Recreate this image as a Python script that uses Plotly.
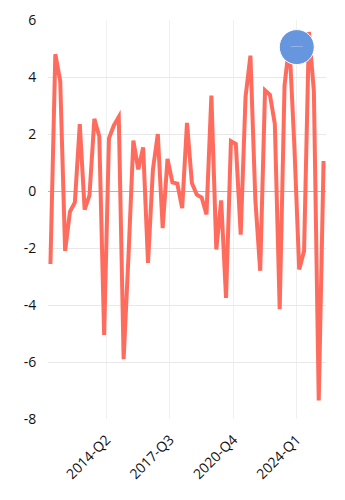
import plotly.graph_objects as go
import pandas as pd

quarters = [
    "2011-Q2", "2011-Q3", "2011-Q4",
    "2012-Q1", "2012-Q2", "2012-Q3", "2012-Q4",
    "2013-Q1", "2013-Q2", "2013-Q3", "2013-Q4",
    "2014-Q1", "2014-Q2", "2014-Q3", "2014-Q4",
    "2015-Q1", "2015-Q2", "2015-Q3", "2015-Q4",
    "2016-Q1", "2016-Q2", "2016-Q3", "2016-Q4",
    "2017-Q1", "2017-Q2", "2017-Q3", "2017-Q4",
    "2018-Q1", "2018-Q2", "2018-Q3", "2018-Q4",
    "2019-Q1", "2019-Q2", "2019-Q3", "2019-Q4",
    "2020-Q1", "2020-Q2", "2020-Q3", "2020-Q4",
    "2021-Q1", "2021-Q2", "2021-Q3", "2021-Q4",
    "2022-Q1", "2022-Q2", "2022-Q3", "2022-Q4",
    "2023-Q1", "2023-Q2", "2023-Q3", "2023-Q4",
    "2024-Q1", "2024-Q2", "2024-Q3", "2024-Q4",
    "2025-Q1", "2025-Q2",
]

values = [
    -2.56, 4.8, 3.85, -2.1, -0.72, -0.4, 2.35, -0.65, -0.15, 2.53,
    1.92, -5.05, 1.85, 2.3, 2.6, -5.9, -2.3, 1.77, 0.76, 1.53,
    -2.52, 0.75, 2.0, -1.3, 1.13, 0.3, 0.26, -0.6, 2.39, 0.28,
    -0.13, -0.23, -0.82, 3.35, -2.05, -0.33, -3.75, 1.75, 1.65, -1.53,
    3.3, 4.75, -0.3, -2.8, 3.53, 3.38, 2.35, -4.15, 3.7, 5.2,
    1.6, -2.75, -2.1, 5.58, 3.5, -7.35, 1.05,
]

x_tick_labels = ["2014-Q2", "2017-Q3", "2020-Q4", "2024-Q1"]
y_tick_values = [-8, -6, -4, -2, 0, 2, 4, 6]
y_tick_labels = ["-8", "-6", "-4", "-2", "0", "2", "4", "6"]

highlight_quarter = ["2024-Q1"]
highlight_value = [5.05]


def q_start(q):
    y, n = q.split("-Q")
    return pd.Timestamp(int(y), 3 * (int(n) - 1) + 1, 1)


def q_end(q):
    return q_start(q) + pd.DateOffset(months=3)


def q_mid(q):
    s = q_start(q)
    return s + (q_end(q) - s) / 2


def iso(t):
    return t.strftime("%Y-%m-%d %H:%M:%S")


x_mid = [iso(q_mid(q)) for q in quarters]
tick_pos = [iso(q_start(q)) for q in x_tick_labels]
hl_x = [iso(q_start(q)) for q in highlight_quarter]

fig = go.Figure()
fig.add_trace(go.Scatter(
    x=x_mid, y=values, mode="lines",
    line=dict(color="rgb(255,108,94)", width=4),
    hoverinfo="skip",
))
fig.add_trace(go.Scatter(
    x=hl_x, y=highlight_value, mode="markers+text",
    text=["\u2014"], textposition="middle center",
    textfont=dict(size=13, color="rgba(255,255,255,0.3)", family="Open Sans"),
    marker=dict(size=35, color="rgb(102,150,222)", line=dict(color="white", width=1)),
    hoverinfo="skip",
))

fig.update_layout(
    width=345, height=500, autosize=False,
    margin=dict(l=48, r=19, t=20, b=81),
    paper_bgcolor="white", plot_bgcolor="white",
    showlegend=False,
    font=dict(family="Open Sans", size=14, color="#111"),
)
fig.update_xaxes(
    type="date",
    range=[iso(q_start(quarters[0])), iso(q_end(quarters[-1]))],
    tickmode="array", tickvals=tick_pos, ticktext=x_tick_labels,
    tickangle=-45, showgrid=True, gridcolor="#f0f0f0", gridwidth=1,
    ticks="outside", ticklen=6, tickcolor="rgba(0,0,0,0)",
    showline=False, zeroline=False, automargin=False,
)
fig.update_yaxes(
    range=[-8, 6], tickmode="array", tickvals=y_tick_values, ticktext=y_tick_labels,
    showgrid=True, gridcolor="#e8e8e8", gridwidth=1,
    zeroline=True, zerolinecolor="#b5b5b5", zerolinewidth=1,
    ticks="outside", ticklen=8, tickcolor="rgba(0,0,0,0)",
    showline=False, automargin=False,
)

post = """
var gd = document.getElementById('{plot_id}');
function sharpen(){
  gd.querySelectorAll('.scatterlayer .js-line').forEach(function(p){
    p.style.strokeLinejoin = 'miter';
    p.style.strokeMiterlimit = '4';
  });
}
sharpen();
gd.on('plotly_afterplot', sharpen);
"""

fig.write_html("out.html", post_script=post)
